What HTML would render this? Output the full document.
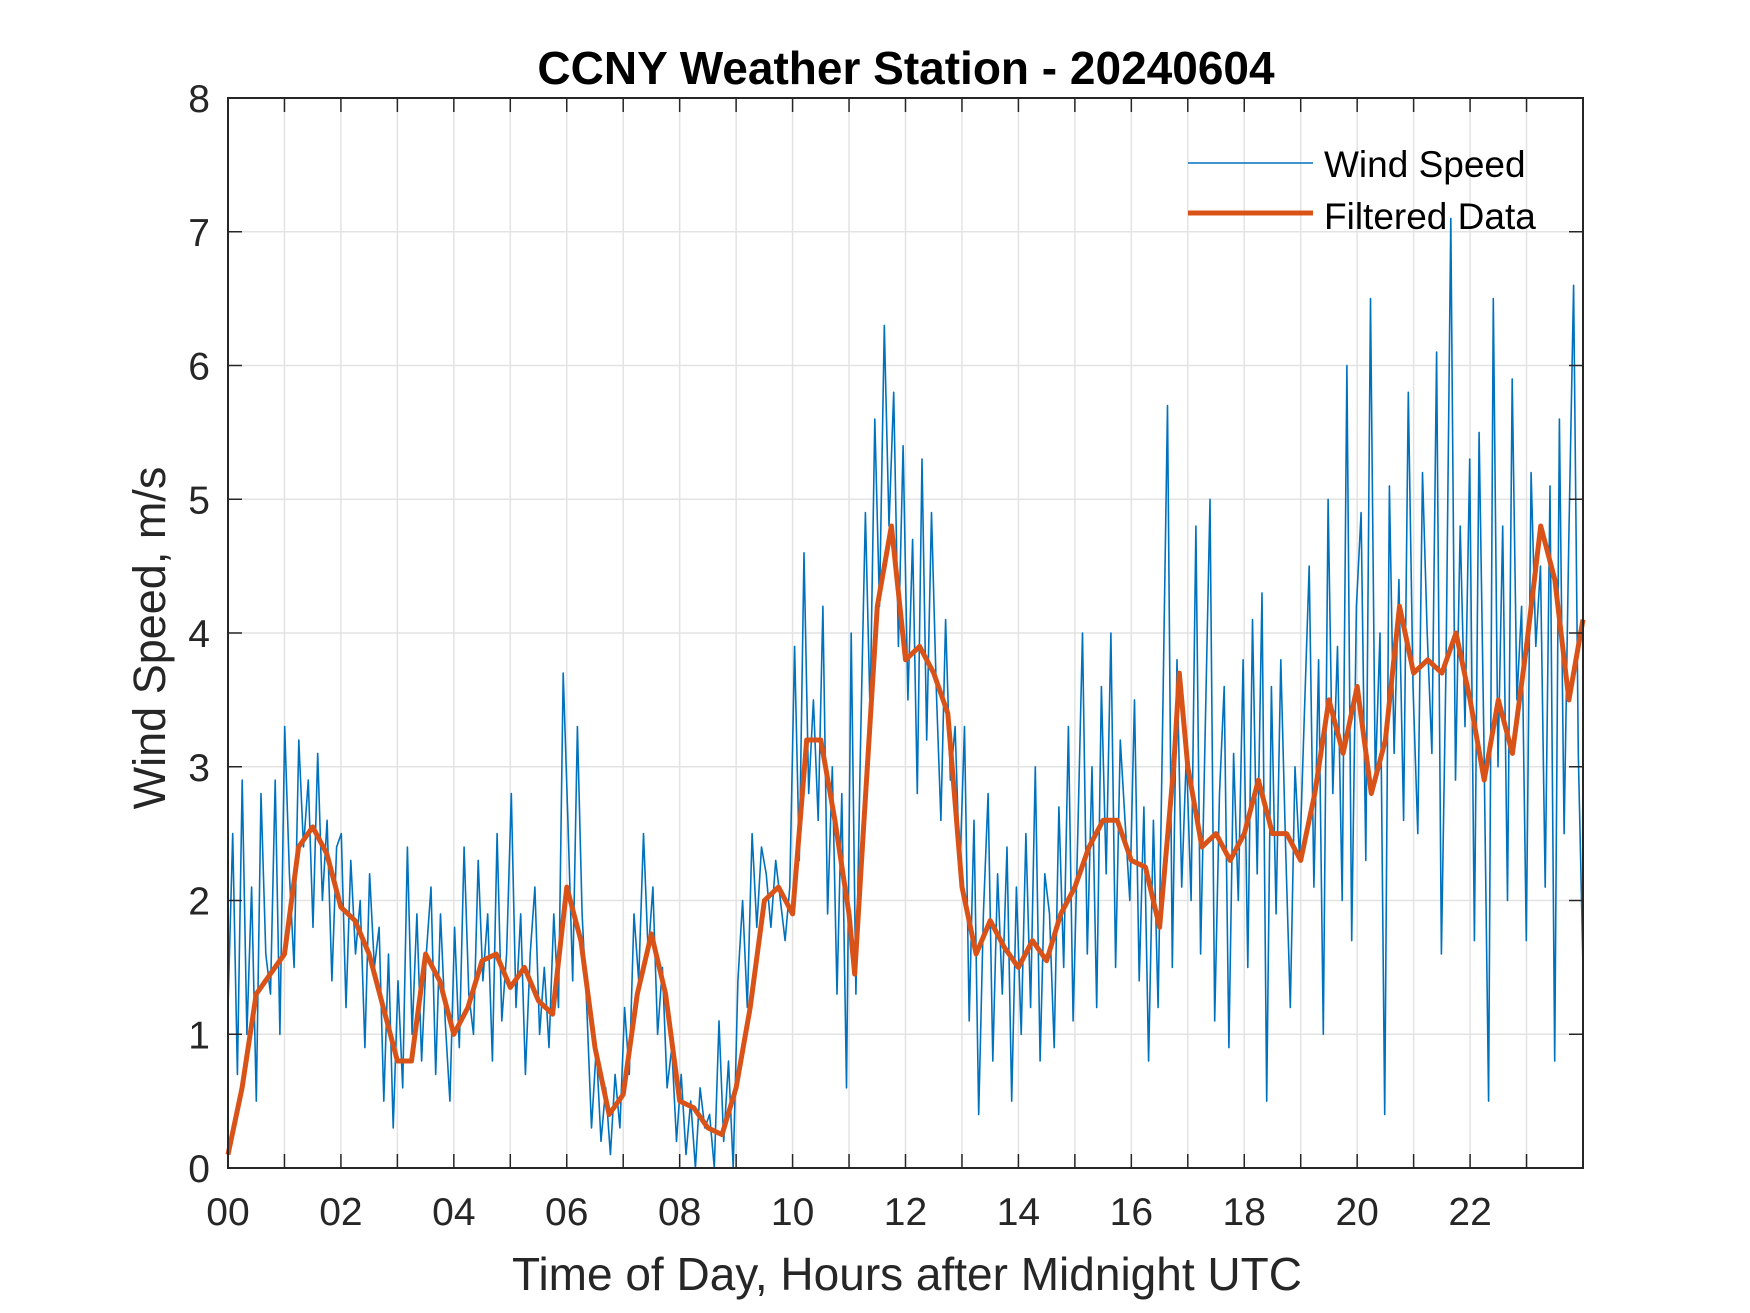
<!DOCTYPE html>
<html><head><meta charset="utf-8"><style>
html,body{margin:0;padding:0;background:#fff;}
svg{display:block;font-family:"Liberation Sans",Arial,sans-serif;}
</style></head><body>
<svg id="chart" width="1750" height="1313" viewBox="0 0 1750 1313" xmlns="http://www.w3.org/2000/svg">
<rect width="1750" height="1313" fill="#fff"/>
<g id="grid"></g>
<g id="series"></g>
<g id="axes"></g>
<text x="906" y="84" font-size="46" font-weight="bold" text-anchor="middle" fill="#000">CCNY Weather Station - 20240604</text>
<text x="907" y="1290" font-size="46" text-anchor="middle" fill="#262626">Time of Day, Hours after Midnight UTC</text>
<text transform="translate(165,638) rotate(-90)" font-size="45" text-anchor="middle" fill="#262626">Wind Speed, m/s</text>
<g>
<line x1="1188" y1="163" x2="1313" y2="163" stroke="#0072bd" stroke-width="1.5"/>
<text x="1324" y="177" font-size="37" fill="#000">Wind Speed</text>
<line x1="1188" y1="213" x2="1313" y2="213" stroke="#d95319" stroke-width="5"/>
<text x="1324" y="229" font-size="37" fill="#000">Filtered Data</text>
</g>
</svg>
<script>
const windValues = [
1.2,2.5,0.7,2.9,1.0,2.1,0.5,2.8,1.6,1.3,2.9,1.0,
3.3,2.2,1.5,3.2,2.4,2.9,1.8,3.1,2.0,2.6,1.4,2.4,
2.5,1.2,2.3,1.6,2.0,0.9,2.2,1.5,1.8,0.5,1.6,0.3,
1.4,0.6,2.4,1.0,1.9,0.8,1.6,2.1,0.7,1.9,1.1,0.5,
1.8,0.9,2.4,1.3,1.0,2.3,1.4,1.9,0.8,2.5,1.1,1.6,
2.8,1.2,1.9,0.7,1.6,2.1,1.0,1.5,0.9,1.9,1.2,3.7,
2.6,1.4,3.3,1.9,1.2,0.3,0.9,0.2,0.6,0.1,0.7,0.3,
1.2,0.7,1.9,1.4,2.5,1.6,2.1,1.0,1.5,0.6,0.9,0.2,
0.7,0.1,0.5,0.0,0.6,0.3,0.4,0.0,1.1,0.2,0.8,0.0,
1.4,2.0,1.2,2.5,1.8,2.4,2.2,1.8,2.3,2.0,1.7,2.1,
3.9,2.3,4.6,2.8,3.5,2.6,4.2,1.9,3.0,1.3,2.8,0.6,
4.0,1.3,3.2,4.9,3.4,5.6,4.2,6.3,4.8,5.8,3.9,5.4,
3.5,4.7,2.8,5.3,3.2,4.9,3.6,2.6,4.1,2.9,3.3,2.2,
3.3,1.1,2.6,0.4,1.9,2.8,0.8,2.2,1.3,2.4,0.5,2.1,
1.0,2.5,1.2,3.0,0.8,2.2,1.9,0.9,2.7,1.5,3.3,1.1,
2.5,4.0,1.6,3.0,1.2,3.6,2.2,4.0,1.5,3.2,2.6,2.0,
3.5,1.4,2.7,0.8,2.6,1.2,3.4,5.7,1.5,3.8,2.1,3.1,
2.0,4.8,1.6,3.3,5.0,1.1,2.8,3.6,0.9,3.1,2.0,3.8,
1.5,4.1,2.2,4.3,0.5,3.6,1.9,3.8,2.4,1.2,3.0,2.3,
3.4,4.5,2.1,3.8,1.0,5.0,2.8,3.9,2.0,6.0,1.7,4.2,
4.9,2.3,6.5,2.9,4.0,0.4,5.1,3.1,4.4,2.6,5.8,3.6,
2.5,5.2,4.0,3.1,6.1,1.6,3.8,7.1,2.9,4.8,3.3,5.3,
1.7,5.5,3.2,0.5,6.5,3.0,4.8,2.0,5.9,3.5,4.2,1.7,
5.2,3.9,4.5,2.1,5.1,0.8,5.6,2.5,4.7,6.6,3.1,1.5];
const filtTimes = [0,0.25,0.5,0.75,1,1.25,1.5,1.75,2,2.25,2.5,2.75,3,3.25,3.5,3.75,4,4.25,4.5,4.75,5,5.25,5.5,5.75,6,6.25,6.5,6.75,7,7.25,7.5,7.75,8,8.25,8.5,8.75,9,9.25,9.5,9.75,10,10.25,10.5,10.75,11,11.1,11.25,11.5,11.75,12,12.25,12.5,12.75,13,13.25,13.5,13.75,14,14.25,14.5,14.75,15,15.25,15.5,15.75,16,16.25,16.5,16.75,16.85,17,17.25,17.5,17.75,18,18.25,18.5,18.75,19,19.25,19.5,19.75,20,20.25,20.5,20.75,21,21.25,21.5,21.75,22,22.25,22.5,22.75,23,23.25,23.5,23.75,24];
const filtValues = [0.1,0.6,1.3,1.45,1.6,2.4,2.55,2.35,1.95,1.85,1.6,1.2,0.8,0.8,1.6,1.4,1.0,1.2,1.55,1.6,1.35,1.5,1.25,1.15,2.1,1.7,0.9,0.4,0.55,1.3,1.75,1.3,0.5,0.45,0.3,0.25,0.6,1.2,2.0,2.1,1.9,3.2,3.2,2.6,1.9,1.45,2.5,4.2,4.8,3.8,3.9,3.7,3.4,2.1,1.6,1.85,1.65,1.5,1.7,1.55,1.9,2.1,2.4,2.6,2.6,2.3,2.25,1.8,3.0,3.7,3.0,2.4,2.5,2.3,2.5,2.9,2.5,2.5,2.3,2.8,3.5,3.1,3.6,2.8,3.2,4.2,3.7,3.8,3.7,4.0,3.5,2.9,3.5,3.1,3.9,4.8,4.4,3.5,4.1];
const xTickLabels = ["00","02","04","06","08","10","12","14","16","18","20","22"];
const yTickLabels = ["0","1","2","3","4","5","6","7","8"];

const L=228,R=1583,T=98,B=1168;
const X=h=>L+(R-L)*h/24;
const Y=v=>B-(B-T)*v/8;
const NS="http://www.w3.org/2000/svg";
function mk(tag,attrs,parent){const e=document.createElementNS(NS,tag);for(const k in attrs)e.setAttribute(k,attrs[k]);parent.appendChild(e);return e;}
const grid=document.getElementById('grid'),axes=document.getElementById('axes'),series=document.getElementById('series');
for(let h=1;h<24;h++){
  const g=mk('line',{x1:X(h),y1:T,x2:X(h),y2:B,stroke:'#e3e3e3','stroke-width':1.5},grid);
  
  
  const t1=mk('line',{x1:X(h),y1:B,x2:X(h),y2:B-14,stroke:'#262626','stroke-width':1.5},axes);
  
  
  const t2=mk('line',{x1:X(h),y1:T,x2:X(h),y2:T+14,stroke:'#262626','stroke-width':1.5},axes);
  
  
}
xTickLabels.forEach((s,i)=>{
  const t=mk('text',{x:X(i*2),y:B+57,'font-size':39,'text-anchor':'middle',fill:'#262626'},axes);
  t.textContent=s;
  
  
});
yTickLabels.forEach((s,i)=>{
  if(i>0&&i<8){
    const g=mk('line',{x1:L,y1:Y(i),x2:R,y2:Y(i),stroke:'#e3e3e3','stroke-width':1.5},grid);
    
    
    const t1=mk('line',{x1:L,y1:Y(i),x2:L+14,y2:Y(i),stroke:'#262626','stroke-width':1.5},axes);
    
    
    const t2=mk('line',{x1:R,y1:Y(i),x2:R-14,y2:Y(i),stroke:'#262626','stroke-width':1.5},axes);
    
    
  }
  const t=mk('text',{x:L-18,y:Y(i)+14,'font-size':39,'text-anchor':'end',fill:'#262626'},axes);
  t.textContent=s;
  
  
});
const fr=mk('rect',{x:L,y:T,width:R-L,height:B-T,fill:'none',stroke:'#262626','stroke-width':2},axes);


const n=windValues.length;
const wp=windValues.map((v,i)=>X(i*24/(n-1)).toFixed(1)+','+Y(v).toFixed(1)).join(' ');
const w=mk('polyline',{points:wp,fill:'none',stroke:'#0072bd','stroke-width':1.6,'stroke-linejoin':'round'},series);


const fp=filtValues.map((v,i)=>X(filtTimes[i]).toFixed(1)+','+Y(v).toFixed(1)).join(' ');
const f=mk('polyline',{points:fp,fill:'none',stroke:'#d95319','stroke-width':5,'stroke-linejoin':'round'},series);


</script>
</body></html>
